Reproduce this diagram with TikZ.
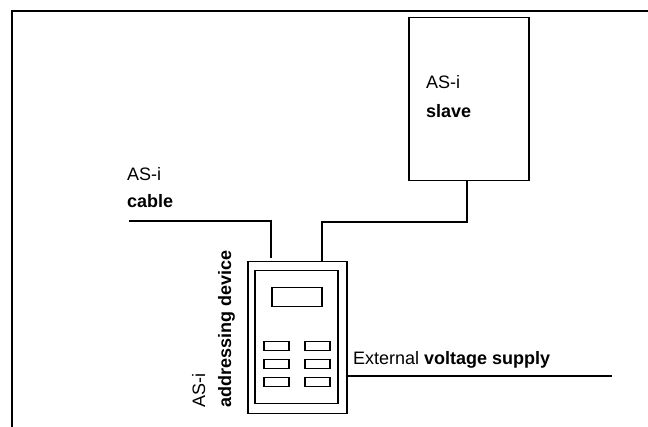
\documentclass[tikz,border=0pt]{standalone}
\usepackage{fontspec}
\setmainfont{Liberation Sans}
\begin{document}
\begin{tikzpicture}[x=1pt,y=-1pt,
  ln/.style={line width=1.5pt},
  frm/.style={line width=2pt},
  box/.style={draw,line width=1.5pt,inner sep=0pt,anchor=north west},
  lbl/.style={inner sep=0pt,anchor=base west,font=\fontsize{18}{21.6}\selectfont},
  vlbl/.style={lbl,rotate=90}]
\useasboundingbox (0,0) rectangle (648,427);
% frame
\coordinate (fbl) at (12,427);
\coordinate (ftl) at (12,11);
\coordinate (ftr) at (648,11);
\draw[frm] (fbl) -- (ftl) -- (ftr);
% slave
\node[box,minimum width=120pt,minimum height=163pt] (slave) at (408,17) {};
\node[lbl] (sl1) at (426,89) {AS-i};
\node[lbl] (sl2) at (426,118) {\bfseries slave};
% cable label
\node[lbl] (cb1) at (127,181) {AS-i};
\node[lbl] (cb2) at (127,208) {\bfseries cable};
% device
\node[box,minimum width=99pt,minimum height=152pt] (dev) at (247,261) {};
\node[box,minimum width=83pt,minimum height=133pt] (inner) at (254,270) {};
\node[box,minimum width=50pt,minimum height=19pt] (disp) at (271,287) {};
\node[box,minimum width=25pt,minimum height=9pt] (b1) at (263,341) {};
\node[box,minimum width=25pt,minimum height=9pt] (b2) at (304,341) {};
\node[box,minimum width=25pt,minimum height=9pt] (b3) at (263,359) {};
\node[box,minimum width=25pt,minimum height=9pt] (b4) at (304,359) {};
\node[box,minimum width=25pt,minimum height=9pt] (b5) at (263,377) {};
\node[box,minimum width=25pt,minimum height=9pt] (b6) at (304,377) {};
\node[vlbl] (dv1) at (205,408) {AS-i};
\node[vlbl] (dv2) at (231,408) {\bfseries addressing device};
% cable
\coordinate (cs) at (129,221);
\coordinate (ce) at (271,258);
\draw[ln] (cs) -| (ce);
% slave connection
\coordinate (sb) at (467,180);
\coordinate (dt) at (322,261);
\draw[ln] (sb) |- (322,222) -- (dt);
% external supply
\coordinate (es) at (346,376);
\coordinate (ee) at (612,376);
\draw[ln] (es) -- (ee);
\node[lbl] (ext) at (353,365) {External \textbf{voltage supply}};
\end{tikzpicture}
\end{document}
